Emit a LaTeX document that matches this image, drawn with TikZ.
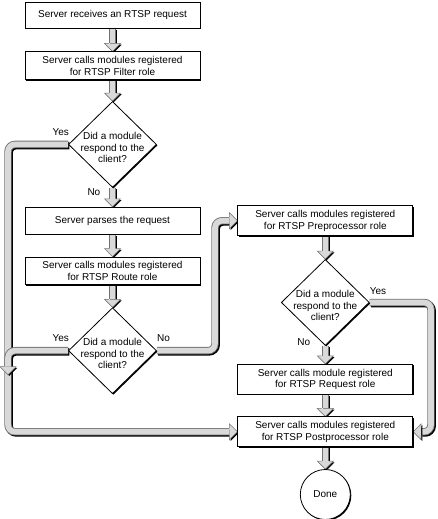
\documentclass[tikz,border=0pt]{standalone}
\usepackage{fontspec}
\setmainfont{Liberation Sans}
\usetikzlibrary{positioning, shapes.geometric, shadows, backgrounds}

\begin{document}
\begin{tikzpicture}[
    font=\fontsize{10bp}{11.5bp}\selectfont,
    shade/.style={drop shadow={shadow xshift=1bp, shadow yshift=-1bp, fill=black, opacity=1}},
    box/.style={draw, fill=white, line width=0.8bp, shade, minimum width=175bp,
        minimum height=27bp, inner ysep=4.5bp, align=center},
    decision/.style={diamond, draw, fill=white, line width=0.8bp, shade,
        minimum width=88bp, minimum height=86bp, inner sep=0pt},
    ending/.style={circle, draw, fill=white, line width=0.8bp, shade, minimum size=50bp, inner sep=0pt},
    lbl/.style={inner sep=1bp},
    pipe/.style={rounded corners=7bp, line width=5.6bp, draw=black!15,
        preaction={draw=black, line width=7.4bp, transform canvas={shift={(1.2bp,-1.2bp)}}},
        preaction={draw=black!55, line width=7.4bp}},
    tipdown/.pic={
        \fill[black] (1.2bp,-1.2bp) -- ++(-8bp,8bp) -- ++(16bp,0) -- cycle;
        \fill[black!15] (0,0) -- (-8bp,8bp) -- (8bp,8bp) -- cycle;
        \draw[black!55, line width=0.5bp] (-3.7bp,8bp) -- (-8bp,8bp) -- (0,0) -- (8bp,8bp) -- (3.7bp,8bp);
    },
    tipright/.pic={
        \fill[black] (1.2bp,-1.2bp) -- ++(-8bp,8bp) -- ++(0,-16bp) -- cycle;
        \fill[black!15] (0,0) -- (-8bp,8bp) -- (-8bp,-8bp) -- cycle;
        \draw[black!55, line width=0.5bp] (-8bp,3.7bp) -- (-8bp,8bp) -- (0,0) -- (-8bp,-8bp) -- (-8bp,-3.7bp);
    },
    tipleft/.pic={
        \fill[black] (1.2bp,-1.2bp) -- ++(8bp,8bp) -- ++(0,-16bp) -- cycle;
        \fill[black!15] (0,0) -- (8bp,8bp) -- (8bp,-8bp) -- cycle;
        \draw[black!55, line width=0.5bp] (8bp,3.7bp) -- (8bp,8bp) -- (0,0) -- (8bp,-8bp) -- (8bp,-3.7bp);
    },
    ]
    \useasboundingbox (0,0) rectangle (438bp,-519bp);

    % left column
    \node[box, minimum height=26bp] (recv) at (112.5bp,-15bp) {Server receives an RTSP request};
    \node[box, below=23bp of recv] (filter) {Server calls modules registered\\for RTSP Filter role};
    \node[decision, below=21bp of filter, label={[yshift=-3bp, align=center]center:Did a module\\respond to the\\client?}] (ask1) {};
    \node[box, below=19bp of ask1] (parse) {Server parses the request};
    \node[box, below=22bp of parse] (route) {Server calls modules registered\\for RTSP Route role};
    \node[decision, below=22bp of route, label={[yshift=-3bp, align=center]center:Did a module\\respond to the\\client?}] (ask2) {};

    % right column
    \node[box, right=37bp of parse] (prep) {Server calls modules registered\\for RTSP Preprocessor role};
    \node[decision, below=23bp of prep, label={[yshift=-3bp, align=center]center:Did a module\\respond to the\\client?}] (ask3) {};
    \node[box, below=18bp of ask3] (request) {Server calls module registered\\for RTSP Request role};
    \node[box, below=22bp of request] (post) {Server calls modules registered\\for RTSP Postprocessor role};
    \node[ending, below=22bp of post] (done) {Done};

    % answers
    \node[lbl, anchor=south east] at ([shift={(2bp,8bp)}]ask1.west) {Yes};
    \node[lbl, anchor=north east] at ([shift={(-11bp,0bp)}]ask1.south) {No};
    \node[lbl, anchor=south east] at ([shift={(2bp,8bp)}]ask2.west) {Yes};
    \node[lbl, anchor=south west] at ([shift={(-1bp,8bp)}]ask2.east) {No};
    \node[lbl, anchor=south west] at ([shift={(-1bp,7bp)}]ask3.east) {Yes};
    \node[lbl, anchor=north east] at ([shift={(-14bp,8bp)}]ask3.south) {No};

    \coordinate (lrail) at (8bp,0);
    \coordinate (mrail) at (215bp,0);
    \coordinate (rrail) at (431bp,0);
    \path (lrail |- ask2.west) ++(0,-24bp) coordinate (join);

    \begin{scope}[on background layer]
        \foreach \a/\b in {recv/filter, filter/ask1, ask1/parse, parse/route, route/ask2,
                prep/ask3, ask3/request, request/post, post/done} {
            \draw[pipe] (\a.south) -- ([yshift=8bp]\b.north);
            \pic at (\b.north) {tipdown};
        }
        % yes branches
        \draw[pipe] (ask1.west) -- (ask1.west -| lrail) -- (post.west -| lrail) -- ([xshift=-8bp]post.west);
        \pic at (post.west) {tipright};
        \draw[pipe] (ask2.west) -- (ask2.west -| lrail) -- ([yshift=8bp]join);
        \pic at (join) {tipdown};
        \draw[pipe] (ask3.east) -- (ask3.east -| rrail) -- (post.east -| rrail) -- ([xshift=8bp]post.east);
        \pic at (post.east) {tipleft};
        % no branch to the right column
        \draw[pipe] (ask2.east) -- (ask2.east -| mrail) -- (prep.west -| mrail) -- ([xshift=-8bp]prep.west);
        \pic at (prep.west) {tipright};
    \end{scope}
\end{tikzpicture}
\end{document}
